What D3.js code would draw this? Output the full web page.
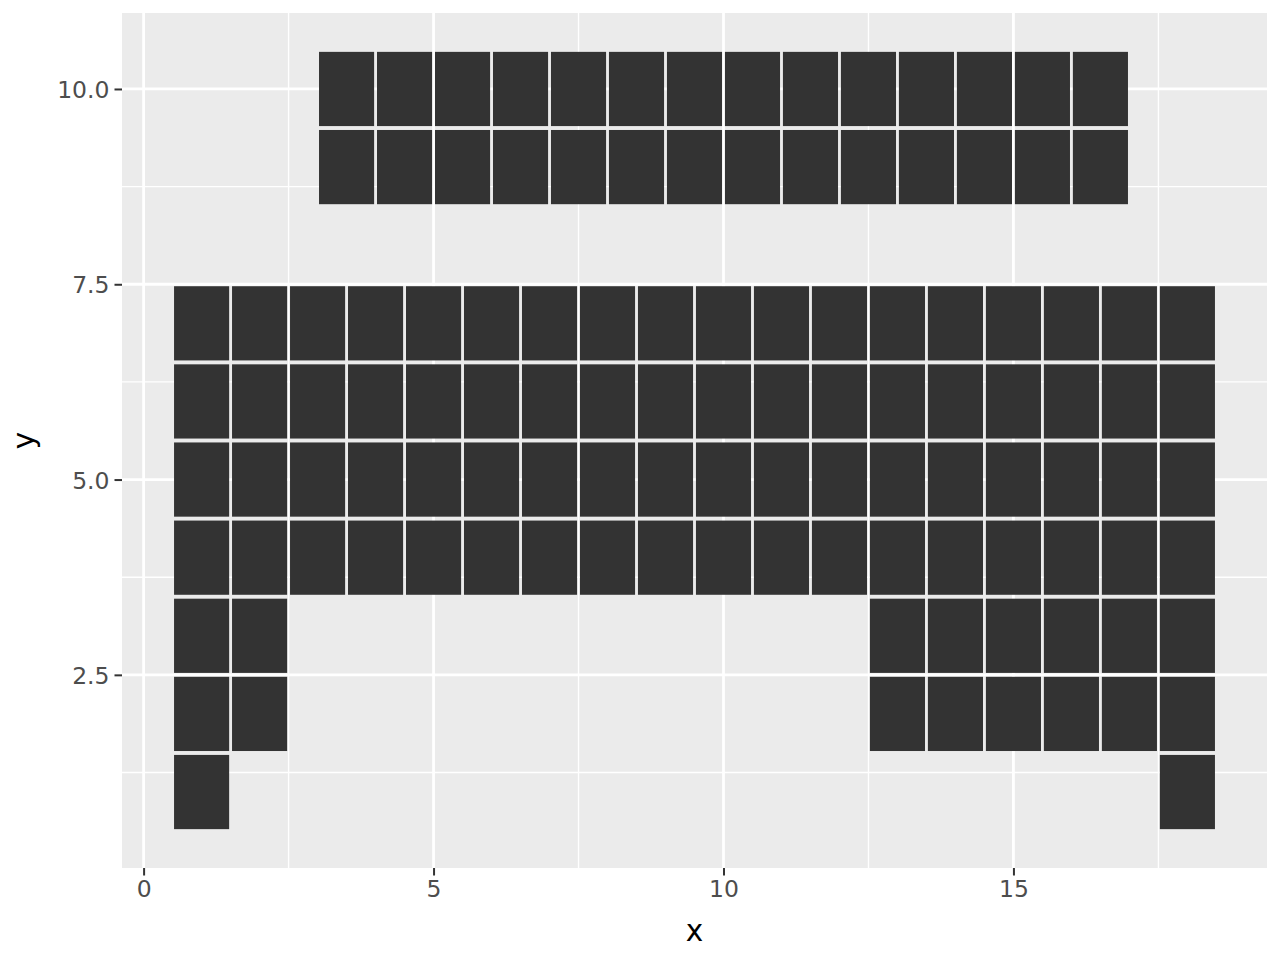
<!DOCTYPE html>
<html>
<head>
<meta charset="utf-8">
<script src="https://cdn.jsdelivr.net/npm/d3@7"></script>
<style>
html, body { margin: 0; padding: 0; background: #ffffff; }
svg { display: block; }
</style>
</head>
<body>
<svg id="chart" width="1280" height="960"></svg>
<script>
// ---- data ----
const fullRowsY = [4, 5, 6, 7];
const fullRowX = [1, 2, 3, 4, 5, 6, 7, 8, 9, 10, 11, 12, 13, 14, 15, 16, 17, 18];
const midRowsY = [2, 3];
const midRowX = [1, 2, 13, 14, 15, 16, 17, 18];
const lowRowsY = [1];
const lowRowX = [1, 18];
const topRowsY = [9, 10];
const topRowX = [3.5, 4.5, 5.5, 6.5, 7.5, 8.5, 9.5, 10.5, 11.5, 12.5, 13.5, 14.5, 15.5, 16.5];

const xTicks = [0, 5, 10, 15];
const xMinor = [2.5, 7.5, 12.5, 17.5];
const yTicks = [2.5, 5.0, 7.5, 10.0];
const yMinor = [1.25, 3.75, 6.25, 8.75];
const xTitle = "x";
const yTitle = "y";

const tileW = 0.95, tileH = 0.95;

const tiles = [];
[[fullRowsY, fullRowX], [midRowsY, midRowX], [lowRowsY, lowRowX], [topRowsY, topRowX]].forEach(([ys, xs]) => {
  ys.forEach(y => xs.forEach(x => tiles.push({x, y})));
});

// ---- layout ----
const panel = {left: 122, top: 13, right: 1267, bottom: 868};
const svg = d3.select("#chart");

const xMinD = d3.min(tiles, d => d.x) - tileW / 2, xMaxD = d3.max(tiles, d => d.x) + tileW / 2;
const yMinD = d3.min(tiles, d => d.y) - tileH / 2, yMaxD = d3.max(tiles, d => d.y) + tileH / 2;
const xe = (xMaxD - xMinD) * 0.05, ye = (yMaxD - yMinD) * 0.05;

const x = d3.scaleLinear().domain([xMinD - xe, xMaxD + xe]).range([panel.left, panel.right]);
const y = d3.scaleLinear().domain([yMinD - ye, yMaxD + ye]).range([panel.bottom, panel.top]);

// panel background
svg.append("rect")
  .attr("x", panel.left).attr("y", panel.top)
  .attr("width", panel.right - panel.left).attr("height", panel.bottom - panel.top)
  .attr("fill", "#ebebeb");

const grid = svg.append("g");
// minor grid
grid.selectAll(".xminor").data(xMinor).join("line")
  .attr("x1", d => x(d)).attr("x2", d => x(d))
  .attr("y1", panel.top).attr("y2", panel.bottom)
  .attr("stroke", "#ffffff").attr("stroke-width", 1.4);
grid.selectAll(".yminor").data(yMinor).join("line")
  .attr("y1", d => y(d)).attr("y2", d => y(d))
  .attr("x1", panel.left).attr("x2", panel.right)
  .attr("stroke", "#ffffff").attr("stroke-width", 1.4);
// major grid
grid.selectAll(".xmajor").data(xTicks).join("line")
  .attr("x1", d => x(d)).attr("x2", d => x(d))
  .attr("y1", panel.top).attr("y2", panel.bottom)
  .attr("stroke", "#ffffff").attr("stroke-width", 2.8);
grid.selectAll(".ymajor").data(yTicks).join("line")
  .attr("y1", d => y(d)).attr("y2", d => y(d))
  .attr("x1", panel.left).attr("x2", panel.right)
  .attr("stroke", "#ffffff").attr("stroke-width", 2.8);

// tiles
svg.append("g").selectAll("rect").data(tiles).join("rect")
  .attr("x", d => x(d.x - tileW / 2))
  .attr("y", d => y(d.y + tileH / 2))
  .attr("width", d => x(d.x + tileW / 2) - x(d.x - tileW / 2))
  .attr("height", d => y(d.y - tileH / 2) - y(d.y + tileH / 2))
  .attr("fill", "#333333");

// axes
const fontFam = "'DejaVu Sans', sans-serif";
const xAxis = d3.axisBottom(x).tickValues(xTicks).tickSize(7.5).tickPadding(4).tickFormat(d3.format("d"));
const gx = svg.append("g").attr("transform", `translate(0,${panel.bottom})`).call(xAxis);
gx.select(".domain").remove();
gx.selectAll(".tick line").attr("stroke", "#333333").attr("stroke-width", 2);
gx.selectAll(".tick text").attr("fill", "#4d4d4d").attr("font-size", "23.5px").attr("font-family", fontFam).attr("dy", "0.74em");

const yAxis = d3.axisLeft(y).tickValues(yTicks).tickSize(7.5).tickPadding(5).tickFormat(d3.format(".1f"));
const gy = svg.append("g").attr("transform", `translate(${panel.left},0)`).call(yAxis);
gy.select(".domain").remove();
gy.selectAll(".tick line").attr("stroke", "#333333").attr("stroke-width", 2);
gy.selectAll(".tick text").attr("fill", "#4d4d4d").attr("font-size", "23.5px").attr("font-family", fontFam).attr("dy", "0.37em");

// titles
svg.append("text")
  .attr("x", (panel.left + panel.right) / 2).attr("y", 941)
  .attr("text-anchor", "middle").attr("font-size", "29.5px").attr("font-family", fontFam)
  .attr("fill", "#000000").text(xTitle);
svg.append("text")
  .attr("transform", `translate(34,${(panel.top + panel.bottom) / 2}) rotate(-90)`)
  .attr("text-anchor", "middle").attr("font-size", "29.5px").attr("font-family", fontFam)
  .attr("fill", "#000000").text(yTitle);
</script>
</body>
</html>
